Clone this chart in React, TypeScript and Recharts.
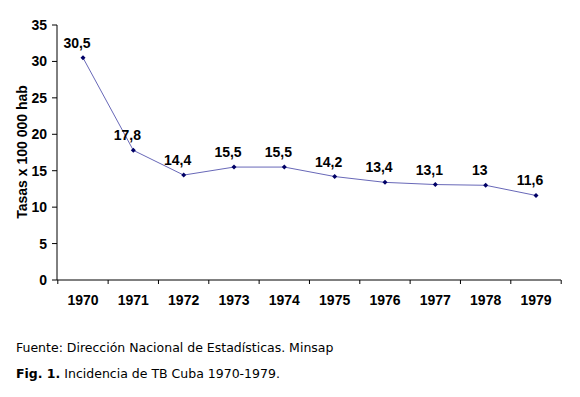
import { Line, LineChart, XAxis, YAxis, LabelList } from "recharts";

const years = ["1970", "1971", "1972", "1973", "1974", "1975", "1976", "1977", "1978", "1979"];
const rates = [30.5, 17.8, 14.4, 15.5, 15.5, 14.2, 13.4, 13.1, 13, 11.6];
const yTicks = [0, 5, 10, 15, 20, 25, 30, 35];

const data = years.map((year, i) => ({ year, rate: rates[i] }));

const FONT = "'Liberation Sans', Arial, sans-serif";
const CAPTION_FONT = "'DejaVu Sans', Verdana, sans-serif";
const HALF_BAND = 25.2;

function YearTick(props: any) {
  const { x, y, payload, index } = props;
  const axisY = y - 6;
  const last = index === years.length - 1;
  return (
    <g>
      <line x1={x - HALF_BAND} y1={axisY} x2={x - HALF_BAND} y2={axisY + 4} stroke="#000" />
      {last ? (
        <line x1={x + HALF_BAND} y1={axisY} x2={x + HALF_BAND} y2={axisY + 4} stroke="#000" />
      ) : null}
      <text
        x={x}
        y={y + 19}
        textAnchor="middle"
        fontFamily={FONT}
        fontSize={14}
        fontWeight="bold"
        fill="#000"
      >
        {payload.value}
      </text>
    </g>
  );
}

function Diamond(props: any) {
  const { cx, cy } = props;
  if (cx == null || cy == null) return null;
  return (
    <path
      d={`M${cx},${cy - 2.5}L${cx + 2.5},${cy}L${cx},${cy + 2.5}L${cx - 2.5},${cy}Z`}
      fill="#000066"
    />
  );
}

function YLabel() {
  return (
    <text
      x={22}
      y={152}
      transform="rotate(-90 22 152)"
      textAnchor="middle"
      dominantBaseline="central"
      fontFamily={FONT}
      fontSize={14}
      fontWeight="bold"
      fill="#000"
    >
      Tasas x 100 000 hab
    </text>
  );
}

export default function App() {
  return (
    <div
      style={{
        position: "absolute",
        left: 0,
        top: 0,
        width: 580,
        height: 397,
        background: "#fff",
      }}
    >
      <LineChart
        width={580}
        height={310}
        data={data}
        margin={{ top: 25, right: 19, left: 0, bottom: 0 }}
      >
        <XAxis
          dataKey="year"
          padding={{ left: 26, right: 25 }}
          tickLine={false}
          tickSize={4}
          tickMargin={2}
          height={30}
          interval={0}
          stroke="#000"
          tick={<YearTick />}
        />
        <YAxis
          width={57}
          domain={[0, 35]}
          ticks={yTicks}
          interval={0}
          tickSize={5}
          tickMargin={5}
          stroke="#000"
          tick={{ fontFamily: FONT, fontSize: 14, fontWeight: "bold", fill: "#000" }}
          label={<YLabel />}
        />
        <Line
          type="linear"
          dataKey="rate"
          stroke="#6868b8"
          strokeWidth={1}
          dot={<Diamond />}
          activeDot={false}
          isAnimationActive={false}
        >
          <LabelList
            dataKey="rate"
            position="top"
            offset={10}
            dx={-6}
            formatter={(v: any) => String(v).replace(".", ",")}
            style={{ fontFamily: FONT, fontSize: 14, fontWeight: "bold", fill: "#000" }}
          />
        </Line>
      </LineChart>
      <div
        style={{
          position: "absolute",
          left: 16,
          top: 340,
          fontFamily: CAPTION_FONT,
          fontSize: 12.5,
          color: "#000",
          whiteSpace: "nowrap",
        }}
      >
        Fuente: Dirección Nacional de Estadísticas. Minsap
      </div>
      <div
        style={{
          position: "absolute",
          left: 16,
          top: 366,
          fontFamily: CAPTION_FONT,
          fontSize: 12.5,
          color: "#000",
          whiteSpace: "nowrap",
        }}
      >
        <b>Fig. 1.</b> Incidencia de TB Cuba 1970-1979.
      </div>
    </div>
  );
}
